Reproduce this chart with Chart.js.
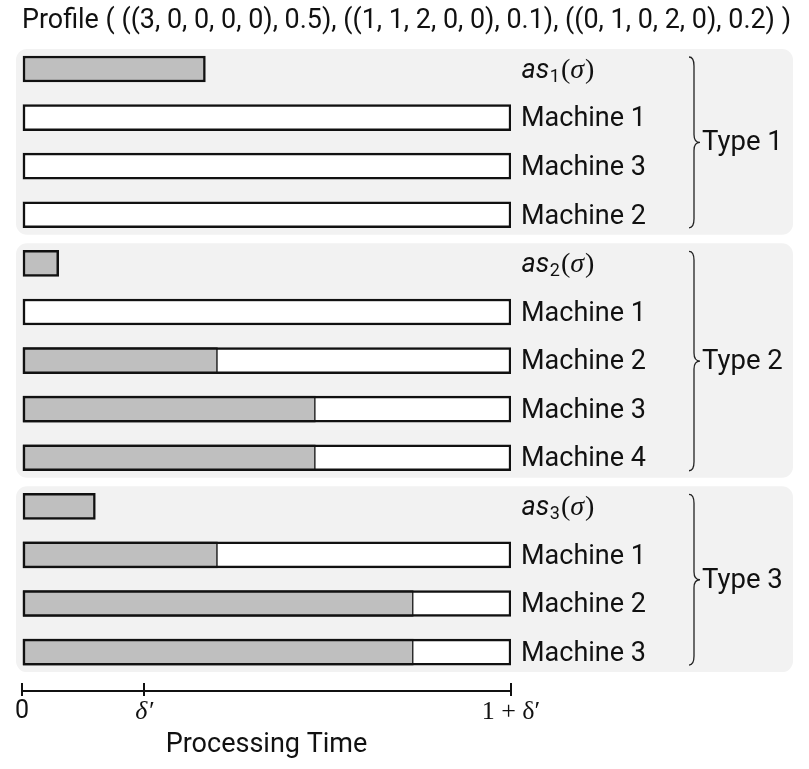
<!DOCTYPE html>
<html><head><meta charset="utf-8">
<script src="https://cdn.jsdelivr.net/npm/chart.js@4/dist/chart.umd.min.js"></script>
<style>html,body{margin:0;padding:0;background:#fff;} canvas{display:block;}</style>
</head><body>
<canvas id="c" width="809" height="769"></canvas>
<script>
// ---- data ----
const delta = 1/3;
const titleText = 'Profile ( ((3, 0, 0, 0, 0), 0.5), ((1, 1, 2, 0, 0), 0.1), ((0, 1, 0, 2, 0), 0.2) )';
const rowLabels = ['as1(σ)','Machine 1','Machine 3','Machine 2',
                   'as2(σ)','Machine 1','Machine 2','Machine 3','Machine 4',
                   'as3(σ)','Machine 1','Machine 2','Machine 3'];
const asRows = [0, 4, 9];
const asSubs = ['1', '2', '3'];
const loads = [0.5, 0, 0, 0,
               0.1, 0, 0.533, 0.8, 0.8,
               0.2, 0.533, 1.067, 1.067];
const capacity = [null, 1+delta, 1+delta, 1+delta,
                  null, 1+delta, 1+delta, 1+delta, 1+delta,
                  null, 1+delta, 1+delta, 1+delta];
const typeLabels = ['Type 1', 'Type 2', 'Type 3'];
const typeFirstRow = [0, 4, 9];
const typeLastRow = [3, 8, 12];
const xTickValues = [0, delta, 1+delta];
const xTickLabels = ['0', 'δ′', '1 + δ′'];
const xTitle = 'Processing Time';

const INK = '#111';
const SANS = 'Roboto';
const SERIF = 'Liberation Serif';

function brace(ctx, x, top, bot) {
  const mid = (top + bot) / 2;
  ctx.beginPath();
  ctx.moveTo(x - 5, top);
  ctx.quadraticCurveTo(x, top, x, top + 9);
  ctx.lineTo(x, mid - 8);
  ctx.quadraticCurveTo(x, mid, x + 6, mid);
  ctx.quadraticCurveTo(x, mid, x, mid + 8);
  ctx.lineTo(x, bot - 9);
  ctx.quadraticCurveTo(x, bot, x - 5, bot);
  ctx.stroke();
}

const decor = {
  id: 'decor',
  beforeDraw(chart) {
    const ctx = chart.ctx, y = chart.scales.y;
    ctx.save();
    ctx.fillStyle = '#f2f2f2';
    typeFirstRow.forEach((f, i) => {
      const top = y.getPixelForValue(f) - 20;
      const bot = y.getPixelForValue(typeLastRow[i]) + 20;
      ctx.beginPath();
      ctx.roundRect(16, top, 793 - 16, bot - top, 11);
      ctx.fill();
    });
    ctx.restore();
  },
  afterDraw(chart) {
    const ctx = chart.ctx, y = chart.scales.y, x = chart.scales.x;
    ctx.save();
    ctx.strokeStyle = '#222';
    ctx.lineWidth = 1.3;
    typeFirstRow.forEach((f, i) => {
      const top = y.getPixelForValue(f) - 12;
      const bot = y.getPixelForValue(typeLastRow[i]) + 13;
      brace(ctx, 694, top, bot);
      ctx.fillStyle = INK;
      ctx.font = '27.5px ' + SANS;
      ctx.textAlign = 'left';
      ctx.textBaseline = 'middle';
      ctx.fillText(typeLabels[i], 702, (top + bot) / 2 + 1);
    });
    asRows.forEach((r, i) => {
      const py = y.getPixelForValue(r) + 9;
      let px = 521.5;
      ctx.textBaseline = 'alphabetic';
      ctx.fillStyle = INK;
      ctx.font = 'italic 27px ' + SANS;
      ctx.fillText('as', px, py); px += ctx.measureText('as').width + 0.5;
      ctx.font = '18px ' + SANS;
      ctx.fillText(asSubs[i], px, py + 4); px += ctx.measureText(asSubs[i]).width + 1;
      ctx.font = '28px ' + SERIF;
      ctx.fillText('(', px, py); px += ctx.measureText('(').width;
      ctx.font = 'italic 28px ' + SERIF;
      ctx.fillText('σ', px, py); px += ctx.measureText('σ').width + 1;
      ctx.font = '28px ' + SERIF;
      ctx.fillText(')', px, py);
    });
    const yb = chart.chartArea.bottom;
    ctx.strokeStyle = INK;
    ctx.lineWidth = 2;
    xTickValues.forEach(v => {
      const px = Math.round(x.getPixelForValue(v));
      ctx.beginPath(); ctx.moveTo(px, yb - 8); ctx.lineTo(px, yb); ctx.stroke();
    });
    ctx.restore();
  }
};

new Chart(document.getElementById('c'), {
  type: 'bar',
  data: {
    datasets: [
      {
        label: 'Load',
        data: loads.map((v, i) => ({ x: v, y: i })),
        backgroundColor: '#bfbfbf',
        borderColor: INK,
        borderSkipped: false,
        borderWidth: c => {
          const i = c.dataIndex;
          if (!loads[i]) return 0;
          return capacity[i] == null ? 2.5 : { left: 2.5, top: 2.5, bottom: 2.5, right: 1.5 };
        },
        barThickness: 26,
        grouped: false,
        order: 0
      },
      {
        label: 'Capacity',
        data: capacity.map((v, i) => ({ x: v, y: i })),
        backgroundColor: '#ffffff',
        borderColor: INK,
        borderWidth: 2.5,
        borderSkipped: false,
        barThickness: 26,
        grouped: false,
        order: 1
      }
    ]
  },
  options: {
    indexAxis: 'y',
    responsive: false,
    animation: false,
    devicePixelRatio: 1,
    layout: { padding: { left: 22, right: 18, top: 0, bottom: 0 } },
    plugins: {
      legend: { display: false },
      tooltip: { enabled: false },
      title: {
        display: true,
        text: titleText,
        color: INK,
        font: { family: SANS, size: 28, weight: 'normal' },
        padding: { top: 4.5, bottom: 6.6 }
      }
    },
    scales: {
      x: {
        type: 'linear', position: 'bottom', min: 0, max: 1 + delta, offset: false,
        afterBuildTicks: s => { s.ticks = xTickValues.map(v => ({ value: v })); },
        afterFit: s => { s.height = 78; s.paddingLeft = 0; s.paddingRight = 0; },
        ticks: {
          autoSkip: false, maxRotation: 0, padding: 1, color: INK,
          callback: (v, i) => xTickLabels[i],
          font: c => c.index === 0 ? { family: SANS, size: 25 }
                : { family: SERIF, size: 26, style: c.index === 1 ? 'italic' : 'normal' }
        },
        grid: { display: true, offset: false, drawOnChartArea: false, drawTicks: true, tickLength: 5, color: INK, lineWidth: 2 },
        border: { display: true, color: INK, width: 2 },
        title: { display: true, text: xTitle, color: INK, font: { family: SANS, size: 27 }, padding: { top: 0, bottom: 8 } }
      },
      y: {
        type: 'linear', position: 'right', reverse: true, min: -0.5, max: 12.8, offset: false,
        afterBuildTicks: s => { s.ticks = rowLabels.map((_, i) => ({ value: i })); },
        afterFit: s => { s.width = 280; s.paddingTop = 0; s.paddingBottom = 0; },
        ticks: {
          autoSkip: false, padding: 10, color: INK, labelOffset: 2,
          font: { family: SANS, size: 27 },
          callback: v => asRows.includes(v) ? '' : rowLabels[v]
        },
        grid: { display: false, offset: false, drawTicks: false },
        border: { display: false }
      }
    }
  },
  plugins: [decor]
});
</script>
</body></html>
